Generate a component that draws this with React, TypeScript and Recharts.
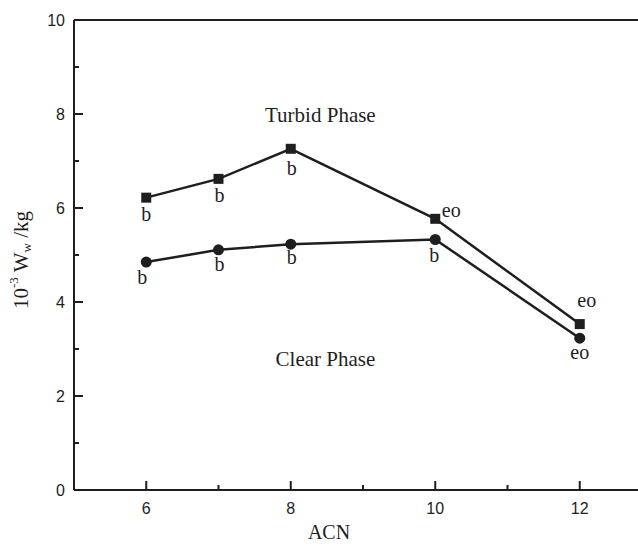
import React from 'react';
import { LineChart, Line, XAxis, YAxis, ReferenceLine, ReferenceDot, LabelList } from 'recharts';

// ACN values and the two phase boundaries (10^-3 Ww/kg)
const acn = [6, 7, 8, 10, 12];
const turbid = [6.22, 6.62, 7.26, 5.77, 3.53];
const clear = [4.85, 5.11, 5.23, 5.33, 3.23];
const turbidNotes = ['b', 'b', 'b', 'eo', 'eo'];
const clearNotes = ['b', 'b', 'b', 'b', 'eo'];

const xTicks = [6, 7, 8, 9, 10, 11, 12];
const xLabels = [6, 8, 10, 12];
const yTicks = [0, 1, 2, 3, 4, 5, 6, 7, 8, 9, 10];
const yLabels = [0, 2, 4, 6, 8, 10];

// where each note sits relative to its marker
const turbidNoteOffset = [[0, 16], [1, 16], [1, 19], [16, -9], [7, -24]];
const clearNoteOffset = [[-4, 15], [1, 14], [1, 13], [-1, 16], [0, 14]];

const data = acn.map((x, i) => ({
  acn: x,
  turbid: turbid[i],
  clear: clear[i],
  tNote: turbidNotes[i],
  cNote: clearNotes[i],
}));

const INK = '#1e1e1e';
const SANS = '"Liberation Sans", Arial, sans-serif';
const SERIF = '"Liberation Serif", "Times New Roman", serif';

const XTick = (props: any) => {
  const { x, y, payload } = props;
  const major = xLabels.includes(payload.value);
  return (
    <g>
      <line x1={x} x2={x} y1={y} y2={y - (major ? 9 : 5)} stroke={INK} strokeWidth={2} />
      {major && (
        <text x={x} y={y + 18} textAnchor="middle" dominantBaseline="central" fontFamily={SANS} fontSize={16} fill={INK}>
          {payload.value}
        </text>
      )}
    </g>
  );
};

const YTick = (props: any) => {
  const { x, y, payload } = props;
  const major = yLabels.includes(payload.value);
  return (
    <g>
      <line x1={x} x2={x + (major ? 9 : 5)} y1={y} y2={y} stroke={INK} strokeWidth={2} />
      {major && (
        <text x={x - 9} y={y} textAnchor="end" dominantBaseline="central" fontFamily={SANS} fontSize={16} fill={INK}>
          {payload.value}
        </text>
      )}
    </g>
  );
};

const noteRenderer = (offsets: number[][]) => (props: any) => {
  const { x, y, value, index } = props;
  const [dx, dy] = offsets[index];
  return (
    <text x={x + dx} y={y + dy} textAnchor="middle" dominantBaseline="central" fontFamily={SERIF} fontSize={20} fill={INK}>
      {value}
    </text>
  );
};

const SquareDot = (props: any) => (
  <rect key={`s${props.index}`} x={props.cx - 5} y={props.cy - 5} width={10} height={10} fill={INK} />
);

const CircleDot = (props: any) => (
  <circle key={`c${props.index}`} cx={props.cx} cy={props.cy} r={5.5} fill={INK} />
);

export default function App() {
  return (
    <div style={{ position: 'absolute', left: 0, top: 0, width: 638, height: 546, overflow: 'hidden', background: '#fff' }}>
      <LineChart width={700} height={546} data={data} margin={{ top: 20, right: 48, left: 0, bottom: 0 }}>
        <XAxis
          type="number"
          dataKey="acn"
          domain={[5, 13]}
          ticks={xTicks}
          interval={0}
          height={56}
          tickSize={0}
          tickMargin={0}
          tickLine={false}
          tick={<XTick />}
          axisLine={{ stroke: INK, strokeWidth: 2 }}
          label={{
            content: () => (
              <text x={329} y={532} textAnchor="middle" dominantBaseline="central" fontFamily={SERIF} fontSize={20} fill={INK}>
                ACN
              </text>
            ),
          }}
        />
        <YAxis
          type="number"
          domain={[0, 10]}
          ticks={yTicks}
          interval={0}
          width={74}
          tickSize={0}
          tickMargin={0}
          tickLine={false}
          tick={<YTick />}
          axisLine={{ stroke: INK, strokeWidth: 2 }}
          label={{
            content: () => (
              <text x={21} y={260} transform="rotate(-90 21 260)" textAnchor="middle" dominantBaseline="central" fontFamily={SERIF} fontSize={21} fill={INK}>
                <tspan>10</tspan>
                <tspan dy={-8} fontSize={13}>-3</tspan>
                <tspan dy={8}> W</tspan>
                <tspan dy={5} fontSize={13}>w</tspan>
                <tspan dy={-5}> /kg</tspan>
              </text>
            ),
          }}
        />
        <ReferenceLine y={10} stroke={INK} strokeWidth={2} />
        <ReferenceDot
          x={8.41}
          y={7.98}
          r={0}
          fill="none"
          stroke="none"
          label={{ value: 'Turbid Phase', position: 'center', fontFamily: SERIF, fontSize: 21, fill: INK }}
        />
        <ReferenceDot
          x={8.48}
          y={2.8}
          r={0}
          fill="none"
          stroke="none"
          label={{ value: 'Clear Phase', position: 'center', fontFamily: SERIF, fontSize: 21, fill: INK }}
        />
        <Line
          dataKey="turbid"
          stroke={INK}
          strokeWidth={2.5}
          dot={SquareDot}
          activeDot={false}
          isAnimationActive={false}
        >
          <LabelList dataKey="tNote" content={noteRenderer(turbidNoteOffset)} />
        </Line>
        <Line
          dataKey="clear"
          stroke={INK}
          strokeWidth={2.5}
          dot={CircleDot}
          activeDot={false}
          isAnimationActive={false}
        >
          <LabelList dataKey="cNote" content={noteRenderer(clearNoteOffset)} />
        </Line>
      </LineChart>
    </div>
  );
}
